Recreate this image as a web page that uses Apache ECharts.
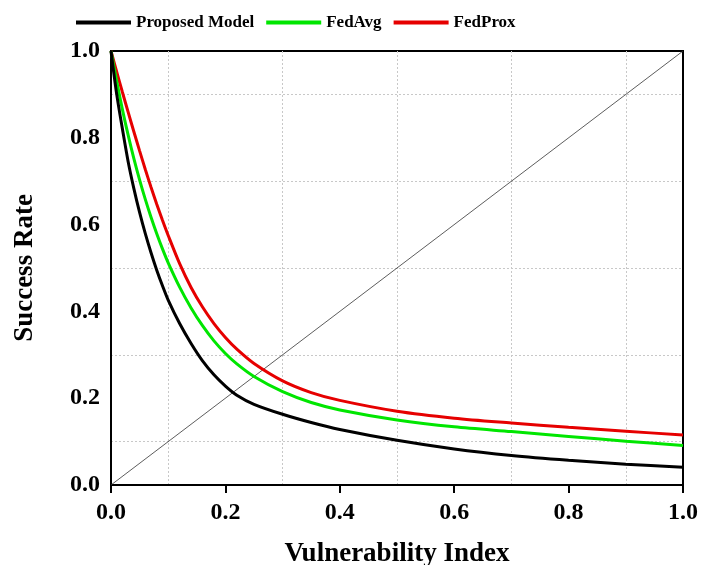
<!DOCTYPE html>
<html>
<head>
<meta charset="utf-8">
<script src="https://cdn.jsdelivr.net/npm/echarts@6/dist/echarts.min.js"></script>
<style>html,body{margin:0;padding:0;background:#fff;}#c{width:702px;height:565px;}</style>
</head>
<body>
<div id="c"></div>
<script>
var seriesNames = ['Proposed Model', 'FedAvg', 'FedProx'];
var xValues = [0, 0.01, 0.02, 0.03, 0.04, 0.05, 0.06, 0.07, 0.08, 0.09, 0.1, 0.12, 0.14, 0.16, 0.18, 0.2, 0.22, 0.25, 0.3, 0.35, 0.4, 0.5, 0.6, 0.7, 0.8, 0.9, 1.0];
var proposedModel = [1.0, 0.90, 0.82, 0.745, 0.683, 0.628, 0.579, 0.535, 0.495, 0.459, 0.426, 0.372, 0.326, 0.286, 0.254, 0.228, 0.207, 0.186, 0.163, 0.144, 0.128, 0.103, 0.083, 0.068, 0.057, 0.048, 0.041];
var fedAvg = [1.0, 0.93, 0.865, 0.806, 0.752, 0.703, 0.658, 0.617, 0.579, 0.544, 0.512, 0.456, 0.408, 0.367, 0.332, 0.303, 0.279, 0.25, 0.215, 0.19, 0.173, 0.15, 0.134, 0.123, 0.112, 0.101, 0.091];
var fedProx = [1.0, 0.952, 0.905, 0.859, 0.814, 0.77, 0.727, 0.686, 0.647, 0.61, 0.575, 0.51, 0.455, 0.41, 0.372, 0.34, 0.313, 0.28, 0.24, 0.213, 0.195, 0.17, 0.154, 0.143, 0.133, 0.124, 0.115];
var diagonalX = [0, 1];
var diagonalY = [0, 1];
var xTickLabels = ['0.0', '0.2', '0.4', '0.6', '0.8', '1.0'];
var yTickLabels = ['0.0', '0.2', '0.4', '0.6', '0.8', '1.0'];

function pairs(xs, ys) { return xs.map(function (x, i) { return [x, ys[i]]; }); }

var font = '"Liberation Serif", "Times New Roman", serif';
var chart = echarts.init(document.getElementById('c'), null, {renderer: 'canvas'});
var curveBase = {type: 'line', smooth: 0.3, symbol: 'none'};
chart.setOption({
  animation: false,
  backgroundColor: '#ffffff',
  textStyle: {fontFamily: font},
  legend: {
    data: seriesNames,
    left: 76, top: 14, padding: 0,
    icon: 'rect', itemWidth: 55, itemHeight: 4, itemGap: 12,
    textStyle: {fontFamily: font, fontWeight: 'bold', fontSize: 17, color: '#000'}
  },
  grid: {left: 111, right: 19, top: 51, bottom: 80, show: true, borderColor: '#000', borderWidth: 2,
    containLabel: false, outerBoundsMode: 'none'},
  xAxis: {
    type: 'value', min: 0, max: 1, interval: 0.2,
    name: 'Vulnerability Index', nameLocation: 'middle', nameGap: 56,
    nameTextStyle: {fontFamily: font, fontWeight: 'bold', fontSize: 27, color: '#000'},
    axisLine: {show: true, lineStyle: {color: '#000', width: 2}},
    axisTick: {show: true, inside: false, length: 8, lineStyle: {color: '#000', width: 2}},
    axisLabel: {margin: 16, fontFamily: font, fontWeight: 'bold', fontSize: 24, color: '#000',
      formatter: function (v) { return xTickLabels[Math.round(v / 0.2)]; }},
    splitLine: {show: false},
    minorTick: {show: false, splitNumber: 2},
    minorSplitLine: {show: true, lineStyle: {color: '#c8c8c8', type: [2, 2], width: 1}}
  },
  yAxis: {
    type: 'value', min: 0, max: 1, interval: 0.2,
    name: 'Success Rate', nameLocation: 'middle', nameGap: 72, nameRotate: 90,
    nameTextStyle: {fontFamily: font, fontWeight: 'bold', fontSize: 27, color: '#000'},
    axisLine: {show: true, lineStyle: {color: '#000', width: 2}},
    axisTick: {show: false},
    axisLabel: {margin: 11, fontFamily: font, fontWeight: 'bold', fontSize: 24, color: '#000',
      formatter: function (v) { return yTickLabels[Math.round(v / 0.2)]; }},
    splitLine: {show: false},
    minorTick: {show: false, splitNumber: 2},
    minorSplitLine: {show: true, lineStyle: {color: '#c8c8c8', type: [2, 2], width: 1}}
  },
  series: [
    {name: 'diag', type: 'line', data: pairs(diagonalX, diagonalY), symbol: 'none', silent: true,
      lineStyle: {color: '#333', width: 0.8}, z: 1},
    Object.assign({}, curveBase, {name: seriesNames[0], data: pairs(xValues, proposedModel),
      lineStyle: {color: '#000000', width: 3}, itemStyle: {color: '#000000'}, z: 4}),
    Object.assign({}, curveBase, {name: seriesNames[1], data: pairs(xValues, fedAvg),
      lineStyle: {color: '#00e600', width: 3}, itemStyle: {color: '#00e600'}, z: 3}),
    Object.assign({}, curveBase, {name: seriesNames[2], data: pairs(xValues, fedProx),
      lineStyle: {color: '#e60000', width: 3}, itemStyle: {color: '#e60000'}, z: 2})
  ]
});
</script>
</body>
</html>
